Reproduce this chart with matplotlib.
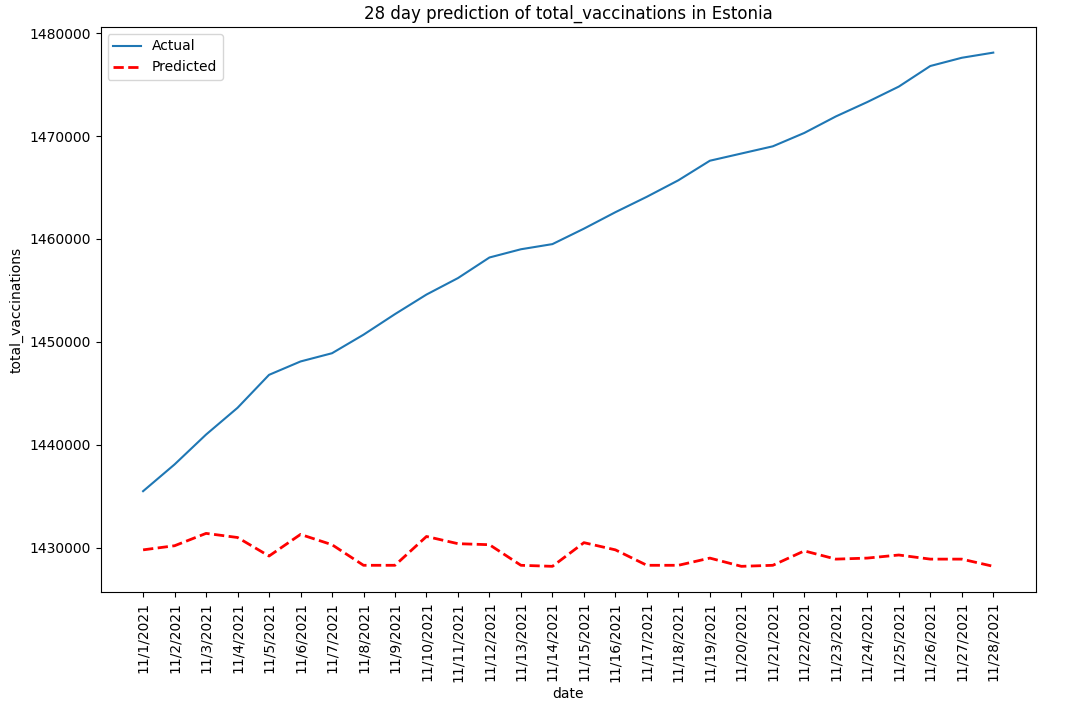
import matplotlib.pyplot as plt

dates = [f"11/{d}/2021" for d in range(1, 29)]

actual = [1435500, 1438100, 1441000, 1443600, 1446800, 1448100, 1448900, 1450700,
          1452700, 1454600, 1456200, 1458200, 1459000, 1459500, 1461000, 1462600,
          1464100, 1465700, 1467600, 1468300, 1469000, 1470300, 1471900, 1473300,
          1474800, 1476800, 1477600, 1478100]

predicted = [1429800, 1430200, 1431400, 1431000, 1429200, 1431300, 1430300, 1428300,
             1428300, 1431100, 1430400, 1430300, 1428300, 1428200, 1430500, 1429800,
             1428300, 1428300, 1429000, 1428200, 1428300, 1429700, 1428900, 1429000,
             1429300, 1428900, 1428900, 1428200]

fig = plt.figure(figsize=(10.7, 7.09), dpi=100)
ax = fig.add_axes([0.094, 0.165, 0.874, 0.797])

ax.plot(dates, actual, label="Actual")
ax.plot(dates, predicted, color="red", linestyle="--", linewidth=2, label="Predicted")

ax.set_title("28 day prediction of total_vaccinations in Estonia")
ax.set_xlabel("date")
ax.set_ylabel("total_vaccinations")
ax.ticklabel_format(axis="y", style="plain", useOffset=False)
plt.setp(ax.get_xticklabels(), rotation=90)
ax.legend(loc="upper left")

fig.savefig("out.png", dpi=100)
